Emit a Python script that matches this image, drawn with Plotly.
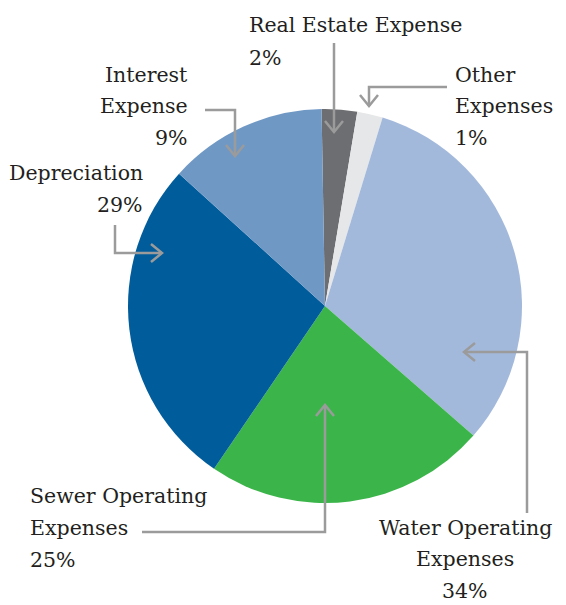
import plotly.graph_objects as go

# ---- data ----
categories = ["Real Estate Expense", "Other Expenses", "Water Operating Expenses",
              "Sewer Operating Expenses", "Depreciation", "Interest Expense"]
values = [2.9, 2.1, 31.7, 23.1, 27.2, 13.0]
pct_labels = ["2%", "1%", "34%", "25%", "29%", "9%"]
callout_lines = [
    ["Real Estate Expense"],
    ["Other", "Expenses"],
    ["Water Operating", "Expenses"],
    ["Sewer Operating", "Expenses"],
    ["Depreciation"],
    ["Interest", "Expense"],
]
colors = ["#6D6E71", "#E6E7E8", "#A3B9DB", "#3BB54A", "#005C9A", "#7098C5"]

W, H = 566, 605
CX, CY, R = 325, 306, 197
FS = 20.5
FONT = "DejaVu Serif"
TEXT_COLOR = "#231F20"
LINE_COLOR = "#9B9B9B"


def px(x):
    return x / W


def py(y):
    return 1 - y / H


fig = go.Figure(go.Pie(
    labels=categories,
    values=values,
    sort=False,
    direction="clockwise",
    rotation=-1,
    marker=dict(colors=colors, line=dict(width=0)),
    textinfo="none",
    hoverinfo="label+percent",
    showlegend=False,
    domain=dict(x=[px(CX - R), px(CX + R)], y=[py(CY + R), py(CY - R)]),
))

# label placement: (x, anchor, first baseline, line spacing)
placements = [
    (247, "left", 32, 33),
    (453, "left", 82, 31.5),
    (465, "center", 535, 31.5),
    (28, "left", 503, 32),
    (145, "right", 180, 32),
    (190, "right", 82, 31.5),
]

annotations = []
for lines, pct, (x, anchor, b0, sp) in zip(callout_lines, pct_labels, placements):
    for i, t in enumerate(lines + [pct]):
        baseline = b0 + i * sp
        annotations.append(dict(
            x=px(x), y=py(baseline - 7.5), xref="paper", yref="paper",
            text=t, showarrow=False, xanchor=anchor, yanchor="middle",
            font=dict(family=FONT, size=FS, color=TEXT_COLOR),
        ))

# connector paths (pixel coordinates), each ends at an arrow tip
connectors = [
    [(334, 43), (334, 132)],                 # Real Estate
    [(447, 87), (369, 87), (369, 106)],      # Other
    [(527, 513), (527, 352), (464, 352)],    # Water
    [(142, 532), (325, 532), (325, 405)],    # Sewer
    [(115, 225), (115, 253), (162, 253)],    # Depreciation
    [(205, 110), (235, 110), (235, 156)],    # Interest
]

shapes = []
for pts in connectors:
    d = "M " + " L ".join(f"{px(x)},{py(y)}" for x, y in pts)
    shapes.append(dict(type="path", path=d, xref="paper", yref="paper",
                       line=dict(color=LINE_COLOR, width=2.5)))
    (x0, y0), (x1, y1) = pts[-2], pts[-1]
    dx, dy = x1 - x0, y1 - y0
    n = (dx * dx + dy * dy) ** 0.5
    ux, uy = dx / n, dy / n
    L, Wd = 11, 9
    a1 = (x1 - ux * L - uy * Wd, y1 - uy * L + ux * Wd)
    a2 = (x1 - ux * L + uy * Wd, y1 - uy * L - ux * Wd)
    d2 = f"M {px(a1[0])},{py(a1[1])} L {px(x1)},{py(y1)} L {px(a2[0])},{py(a2[1])}"
    shapes.append(dict(type="path", path=d2, xref="paper", yref="paper",
                       line=dict(color=LINE_COLOR, width=2.5)))

fig.update_layout(
    width=W, height=H,
    margin=dict(l=0, r=0, t=0, b=0),
    paper_bgcolor="white", plot_bgcolor="white",
    font=dict(family=FONT),
    annotations=annotations,
    shapes=shapes,
)

fig.write_html("out.html",
               config={"displayModeBar": False},
               post_script="document.body.style.margin='0';document.body.style.overflow='hidden';")
